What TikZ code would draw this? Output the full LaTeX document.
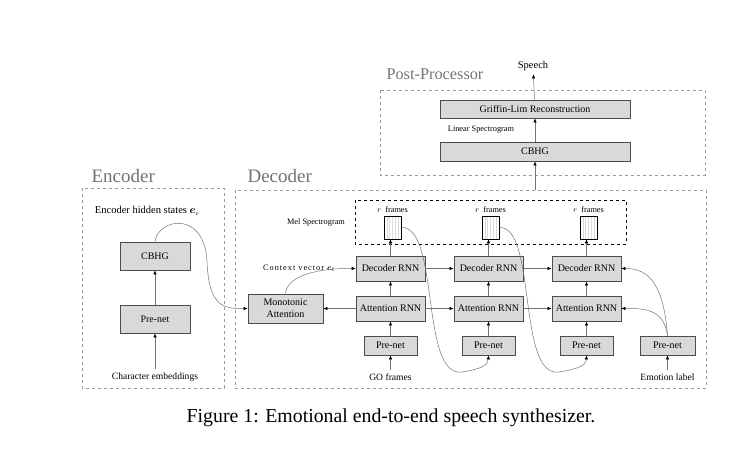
\documentclass[tikz,border=0pt]{standalone}
\usepackage{fontspec}
\usepackage{amsmath}
\setmainfont{Liberation Serif}
\usetikzlibrary{arrows.meta,positioning,calc}

\tikzset{
  block/.style={draw=black!70,fill=black!15,line width=0.8pt,inner sep=0pt,
    minimum width=69pt,minimum height=25pt,font=\fontsize{10}{11}\selectfont},
  prenet/.style={block,minimum width=53pt,minimum height=19pt},
  postblock/.style={block,minimum width=190pt,minimum height=19pt},
  framebox/.style={draw=black,fill=white,line width=0.6pt,inner sep=0pt,
    minimum width=17pt,minimum height=23pt,
    path picture={\foreach \k in {1,...,5}
      \draw[black!15,line width=0.3pt]
        ($(path picture bounding box.south west)+(\k*2.8pt,0)$) --
        ($(path picture bounding box.north west)+(\k*2.8pt,0)$);}},
  group/.style={draw=black!40,dashed,line width=0.6pt},
  grouplabel/.style={text=black!55,font=\fontsize{19}{21}\selectfont,anchor=base west},
  small/.style={font=\fontsize{8.3}{9}\selectfont},
  mid/.style={font=\fontsize{9.6}{10}\selectfont},
  conn/.style={draw=black!55,line width=0.5pt,
    -{Latex[length=4pt,width=3.5pt,color=black]}}
}

\begin{document}
\begin{tikzpicture}[x=1pt,y=-1pt]
  \useasboundingbox (0,0) rectangle (740,451);

  % groups
  \draw[group] (82,188) rectangle (224,388);
  \draw[group] (235,190) rectangle (706,388);
  \draw[group] (380,90) rectangle (705,175);
  \draw[dashed,line width=0.7pt] (355,200) rectangle (626,244);
  \node[grouplabel] (enclab) at (88,182) {Encoder};
  \node[grouplabel] (declab) at (244,182) {Decoder};
  \node[grouplabel,font=\fontsize{16.3}{18}\selectfont] (postlab) at (383,79) {Post-Processor};

  % encoder
  \node (ehs) [font=\fontsize{10.5}{11}\selectfont] at (147,211) {Encoder hidden states $\boldsymbol{e}_i$};
  \node (ecbhg) [block,minimum width=70pt,minimum height=28pt] at (155,256) {CBHG};
  \node (epre) [block,minimum width=70pt,minimum height=28pt] at (155,319) {Pre-net};
  \node (chr) [mid] at (155,377) {Character embeddings};

  % decoder
  \node (mono) [block,minimum width=75pt,minimum height=29pt,align=center,
    font=\fontsize{10}{12}\selectfont] at (285.5,308.5) {Monotonic\\Attention};
  \node (ctx) [small,font=\fontsize{8.3}{9}\selectfont\addfontfeature{LetterSpace=12}]
    at (299,268) {Context vector $\boldsymbol{c}_t$};
  \node (mel) [small] at (316,223) {Mel Spectrogram};
  \foreach \i/\x in {1/390.5,2/488.5,3/586.5} {
    \node (dec\i) [block] at (\x,268.5) {Decoder RNN};
    \node (att\i) [block] at (\x,308.5) {Attention RNN};
    \node (pre\i) [prenet] at (\x,345.5) {Pre-net};
    \node (fr\i) [framebox] at (\x+2,227.5) {};
    \node (rf\i) [small,above=0pt of fr\i] {$r$~~frames};
  }
  \node (epn) [prenet,minimum width=55pt] at (667.5,345.5) {Pre-net};
  \node (go) [mid] at (390.5,377) {GO frames};
  \node (emo) [mid] at (667.5,377) {Emotion label};
  \coordinate (dectop) at (535,190);

  % post-processor
  \node (gl) [postblock,minimum height=18pt] at (535,109) {Griffin-Lim Reconstruction};
  \node (pcbhg) [postblock] at (535,151.5) {CBHG};
  \node (lin) [small] at (481,130) {Linear Spectrogram};
  \node (speech) [font=\fontsize{10.5}{11}\selectfont] at (533,66) {Speech};

  % encoder arrows
  \draw[conn] (chr) -- (epre);
  \draw[conn] (epre) -- (ecbhg);
  \draw[conn] (ecbhg.north) .. controls (158,218) and (205,210) .. (207,262)
    .. controls (209,305) and (222,309) .. (mono.west);

  % decoder arrows
  \foreach \i in {1,2,3} {
    \draw[conn] (pre\i) -- (att\i);
    \draw[conn] (att\i) -- (dec\i);
    \draw[conn] (dec\i.north) -- (fr\i.south -| dec\i.north);
  }
  \foreach \i/\j in {1/2,2/3} {
    \draw[conn] (dec\i) -- (dec\j);
    \draw[conn] (att\i) -- (att\j);
  }
  \draw[conn] (att1) -- (mono);
  \draw[conn] (mono.north) .. controls (287,275) and (320,268) .. (dec1.west);
  \draw[conn] (go) -- (pre1);
  \draw[conn] (emo) -- (epn);
  \draw[conn] (fr1.east) .. controls (440,226) and (420,378) .. (462,372)
    .. controls (480,369) and (488,366) .. (pre2.south);
  \draw[conn] (fr2.east) .. controls (537,226) and (517,378) .. (559,372)
    .. controls (577,369) and (586,366) .. (pre3.south);
  \draw[conn] (epn.north) .. controls (664,312) and (650,308) .. (att3.east);
  \draw[conn] (epn.north) .. controls (664,290) and (652,268) .. (dec3.east);

  % post-processor arrows
  \draw[conn] (dectop) -- (pcbhg);
  \draw[conn] (pcbhg) -- (gl);
  \draw[conn] (gl) -- (speech);

  % caption
  \node (cap) [font=\fontsize{19.8}{22}\selectfont] at (391,418)
    {Figure 1: Emotional end-to-end speech synthesizer.};
\end{tikzpicture}
\end{document}
